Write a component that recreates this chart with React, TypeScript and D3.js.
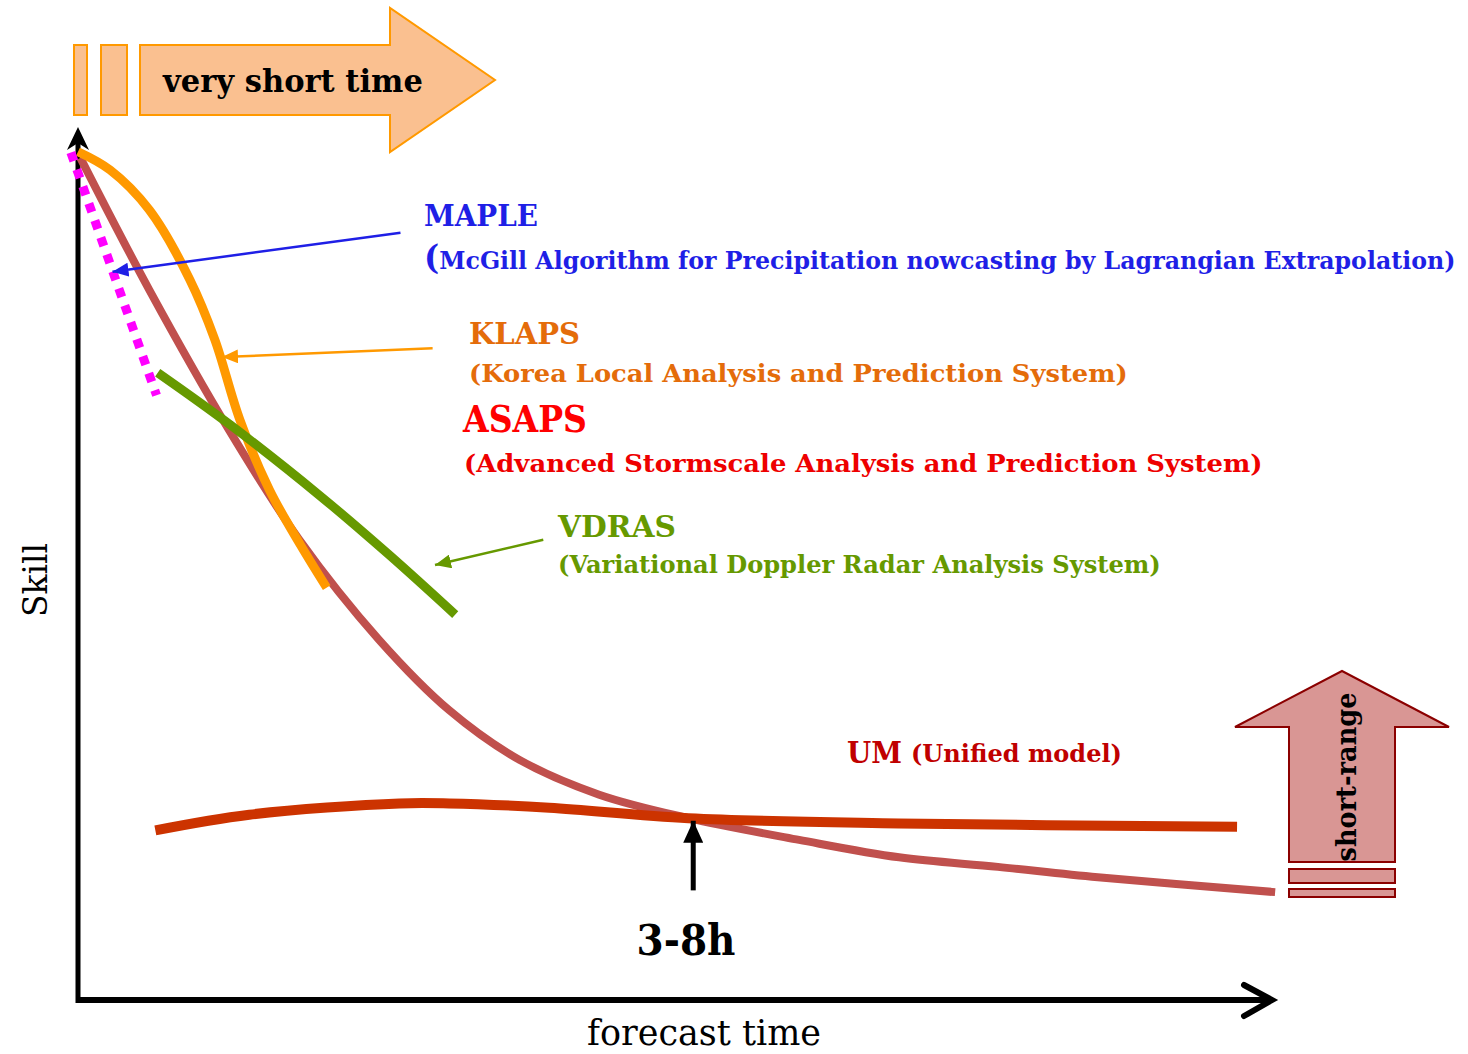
import React, { useLayoutEffect, useRef, useState } from 'react';
import * as d3 from 'd3';

// forecast time (arbitrary units 0-100) and skill (0-100)
const asapsTime = [0.2, 6.0, 12.7, 18.6, 25.3, 31.2, 37.1, 43.8, 51.3, 60.6, 69.0, 77.3, 85.7, 100.6];
const asapsSkill = [96.8, 81.6, 65.5, 52.9, 41.4, 33.3, 27.6, 23.6, 20.9, 18.4, 16.4, 15.3, 14.1, 12.4];

const klapsTime = [0, 2.7, 6.0, 9.4, 11.5, 13.6, 16.1, 18.7, 20.9];
const klapsSkill = [97.5, 95.4, 90.8, 82.8, 75.9, 66.7, 58.6, 52.3, 47.4];

const mapleTime = [-0.6, 6.6];
const mapleSkill = [97.4, 69.5];

const vdrasTime = [6.7, 12.8, 20.3, 26.2, 31.7];
const vdrasSkill = [72.1, 66.1, 58.0, 51.1, 44.3];

const umTime = [6.5, 14.4, 27.0, 31.2, 39.6, 51.3, 69.0, 97.4];
const umSkill = [19.5, 21.3, 22.6, 22.6, 22.1, 20.9, 20.3, 19.9];

// annotation pointers [fromTime, fromSkill, toTime, toSkill]
const mapleArrow = [27.1, 88.2, 2.9, 83.7];
const klapsArrow = [29.8, 74.9, 12.1, 73.9];
const vdrasArrow = [39.1, 52.9, 30.0, 50.0];
const crossArrow = [51.7, 12.6, 51.7, 20.6];

const FONT = '"DejaVu Serif", serif';

// text squeezed horizontally to a target width (the original uses a narrower serif)
function FitText({ x, y, len, rotate = 0, children, ...rest }: any) {
  const ref = useRef<SVGTextElement>(null);
  const [sx, setSx] = useState(1);
  useLayoutEffect(() => {
    if (!ref.current) return;
    const w = ref.current.getComputedTextLength();
    if (w > 0) setSx(len / w);
  }, [len, children]);
  return (
    <text ref={ref} transform={`translate(${x},${y}) rotate(${rotate}) scale(${sx},1)`}
      fontFamily={FONT} {...rest}>{children}</text>
  );
}

export default function App() {
  const width = 1468;
  const height = 1054;
  const x = d3.scaleLinear().domain([0, 100]).range([78, 1268]);
  const y = d3.scaleLinear().domain([0, 100]).range([1000, 130]);

  const line = d3.line<[number, number]>()
    .x(d => x(d[0]))
    .y(d => y(d[1]))
    .curve(d3.curveCatmullRom.alpha(0.5));

  const zip = (a: number[], b: number[]) => a.map((v, i) => [v, b[i]] as [number, number]);

  const arrow = (a: number[], color: string, w: number, id: string) => (
    <line x1={x(a[0])} y1={y(a[1])} x2={x(a[2])} y2={y(a[3])}
      stroke={color} strokeWidth={w} markerEnd={`url(#${id})`} />
  );

  const marker = (id: string, color: string, len: number, half: number) => (
    <marker id={id} markerUnits="userSpaceOnUse" viewBox={`0 ${-half} ${len} ${half * 2}`}
      refX={len} refY={0} markerWidth={len} markerHeight={half * 2} orient="auto">
      <path d={`M0,${-half}L${len},0L0,${half}Z`} fill={color} />
    </marker>
  );

  const x0 = x(0), yb = y(0);

  return (
    <svg width={width} height={height} style={{ position: 'absolute', left: 0, top: 0, background: '#fff' }}>
      <defs>
        {marker('mBlue', '#1f1fe6', 16, 7)}
        {marker('mOrange', '#ff9900', 16, 7)}
        {marker('mGreen', '#669900', 16, 7)}
        {marker('mBlack', '#000', 22, 10)}
      </defs>

      {/* very short time banner */}
      <g fill="#fac090" stroke="#ff9900" strokeWidth={2}>
        <rect x={74} y={45} width={13} height={70} />
        <rect x={101} y={45} width={26} height={70} />
        <path d="M140,45L390,45L390,8L495,80L390,152L390,115L140,115Z" />
      </g>
      <FitText x={163} y={92} len={260} fontWeight="bold" fontSize={32}>very short time</FitText>

      {/* short-range arrow */}
      <g fill="#d99694" stroke="#8b0000" strokeWidth={2}>
        <path d="M1289,862L1289,727L1235,727L1342,671L1449,727L1395,727L1395,862Z" />
        <rect x={1289} y={869} width={106} height={14} />
        <rect x={1289} y={889} width={106} height={8} />
      </g>
      <FitText x={1356} y={777} rotate={-90} len={169} textAnchor="middle"
        fontWeight="bold" fontSize={28}>short-range</FitText>

      {/* axes */}
      <line x1={x0} y1={yb + 3} x2={x0} y2={140} stroke="#000" strokeWidth={5} />
      <path d={`M${x0},127L${x0 + 11},150L${x0},143L${x0 - 11},150Z`} fill="#000" />
      <line x1={x0 - 2} y1={yb} x2={1270} y2={yb} stroke="#000" strokeWidth={6} />
      <path d="M1244,985L1272,1000L1244,1016" fill="none" stroke="#000" strokeWidth={6} strokeLinecap="round" />

      {/* model curves */}
      <path d={line(zip(asapsTime, asapsSkill)) || ''} fill="none" stroke="#c0504d" strokeWidth={8} />
      <path d={line(zip(klapsTime, klapsSkill)) || ''} fill="none" stroke="#ff9900" strokeWidth={9} />
      <path d={line(zip(mapleTime, mapleSkill)) || ''} fill="none" stroke="#ff00ff" strokeWidth={9}
        strokeDasharray="9,9" />
      <path d={line(zip(vdrasTime, vdrasSkill)) || ''} fill="none" stroke="#669900" strokeWidth={9} />
      <path d={line(zip(umTime, umSkill)) || ''} fill="none" stroke="#cc3300" strokeWidth={10} />

      {/* pointers */}
      {arrow(mapleArrow, '#1f1fe6', 2.5, 'mBlue')}
      {arrow(klapsArrow, '#ff9900', 2.5, 'mOrange')}
      {arrow(vdrasArrow, '#669900', 2.5, 'mGreen')}
      {arrow(crossArrow, '#000', 5, 'mBlack')}

      {/* labels */}
      <g fontWeight="bold">
        <FitText x={424} y={226} len={114} fill="#1f1fe6" fontWeight="bold" fontSize={30}>MAPLE</FitText>
        <FitText x={424} y={269} len={1032} fill="#1f1fe6" fontWeight="bold" fontSize={25}>
          <tspan fontSize={34}>(</tspan>McGill Algorithm for Precipitation nowcasting by Lagrangian Extrapolation)
        </FitText>

        <FitText x={469} y={344} len={111} fill="#e46c0a" fontWeight="bold" fontSize={30}>KLAPS</FitText>
        <FitText x={469} y={382} len={659} fill="#e46c0a" fontWeight="bold" fontSize={25}>(Korea Local Analysis and Prediction System)</FitText>

        <FitText x={463} y={432} len={124} fill="#ff0000" fontWeight="bold" fontSize={38}>ASAPS</FitText>
        <FitText x={464} y={472} len={799} fill="#ee0000" fontWeight="bold" fontSize={25}>(Advanced Stormscale Analysis and Prediction System)</FitText>

        <FitText x={558} y={537} len={118} fill="#669900" fontWeight="bold" fontSize={30}>VDRAS</FitText>
        <FitText x={558} y={573} len={603} fill="#669900" fontWeight="bold" fontSize={25}>(Variational Doppler Radar Analysis System)</FitText>

        <FitText x={847} y={763} len={55} fill="#c00000" fontWeight="bold" fontSize={30}>UM</FitText>
        <FitText x={911} y={762} len={211} fill="#c00000" fontWeight="bold" fontSize={24}>(Unified model)</FitText>

        <FitText x={686} y={955} len={99} textAnchor="middle" fill="#000" fontWeight="bold" fontSize={42}>3-8h</FitText>
      </g>

      <FitText x={704} y={1045} len={234} textAnchor="middle" fontSize={36}>forecast time</FitText>
      <FitText x={47} y={580} rotate={-90} len={74} textAnchor="middle" fontSize={34}>Skill</FitText>
    </svg>
  );
}
